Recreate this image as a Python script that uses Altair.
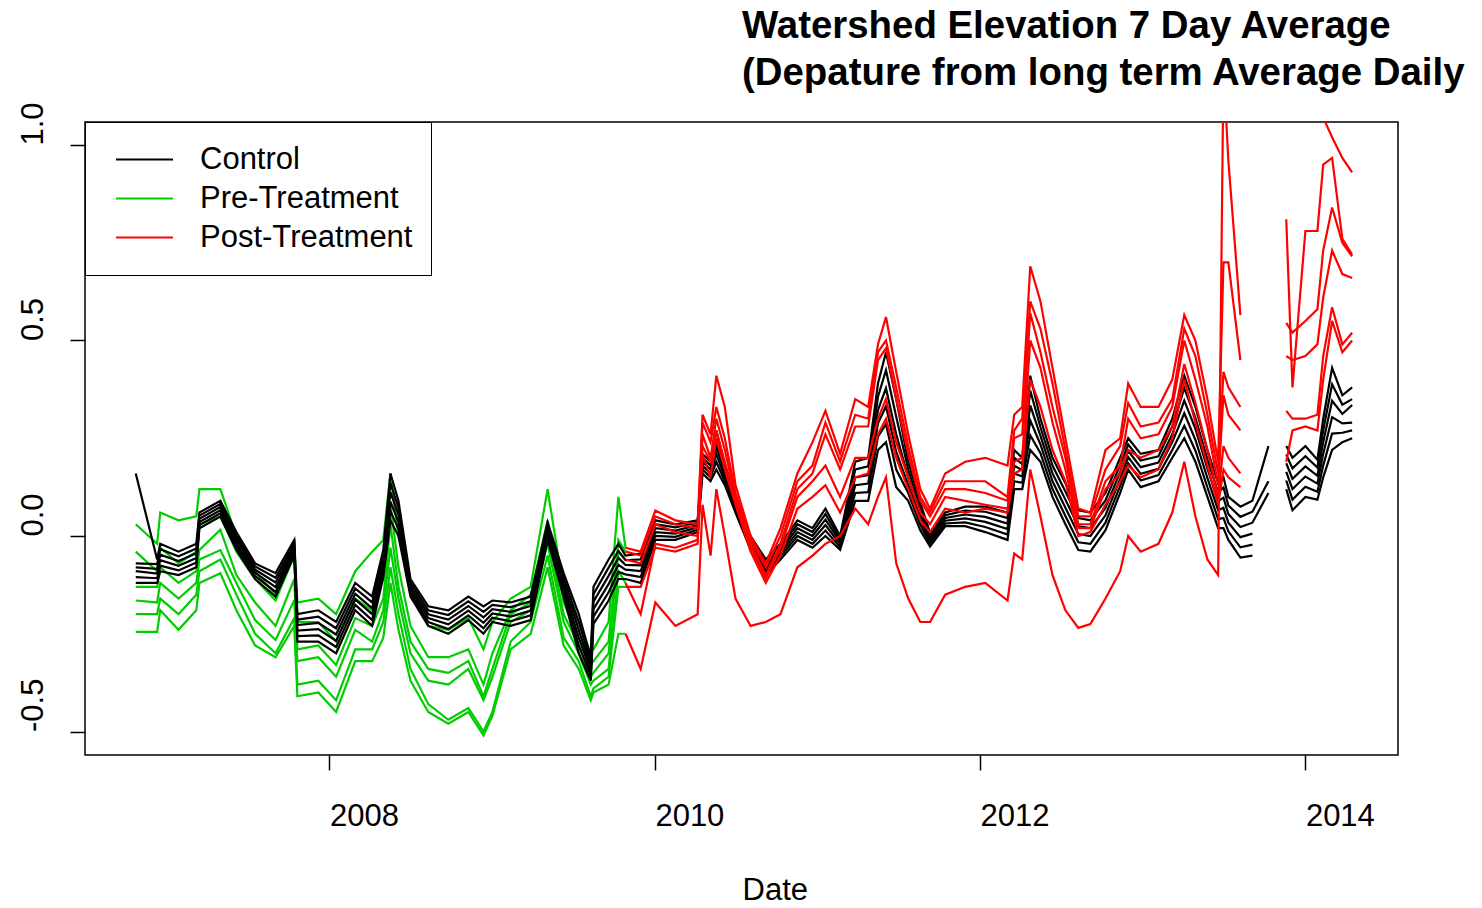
import altair as alt
import pandas as pd

# ---------------- data ----------------
dates = [
    "2006-10-23", "2006-12-10", "2006-12-17", "2007-01-27", "2007-03-08", "2007-03-15", "2007-05-01", "2007-06-06", "2007-07-18", "2007-09-02",
    "2007-10-14", "2007-10-21", "2007-12-07", "2008-01-16", "2008-02-28", "2008-04-06", "2008-05-01", "2008-05-17", "2008-06-04", "2008-07-01",
    "2008-08-10", "2008-09-24", "2008-11-08", "2008-12-12", "2009-01-01", "2009-02-11", "2009-03-28", "2009-05-05", "2009-06-10", "2009-07-14",
    "2009-08-10", "2009-08-16", "2009-09-19", "2009-10-11", "2009-10-27", "2009-11-30", "2010-01-02", "2010-02-16", "2010-04-07", "2010-04-18",
    "2010-05-06", "2010-05-19", "2010-06-07", "2010-07-01", "2010-08-04", "2010-09-07", "2010-10-10", "2010-11-17", "2010-12-21", "2011-01-19",
    "2011-02-21", "2011-03-27", "2011-04-25", "2011-05-17", "2011-06-04", "2011-06-27", "2011-07-24", "2011-08-20", "2011-09-11", "2011-10-15",
    "2011-11-29", "2012-01-13", "2012-03-03", "2012-03-18", "2012-04-05", "2012-04-23", "2012-05-16", "2012-06-12", "2012-07-11", "2012-08-09",
    "2012-09-05", "2012-10-09", "2012-11-11", "2012-11-29", "2012-12-27", "2013-02-05", "2013-03-08", "2013-04-04", "2013-04-29", "2013-05-26",
    "2013-06-19", "2013-07-01", "2013-07-12", "2013-08-08", "2013-09-04", "2013-10-10",
    "2013-10-29",
    "2013-11-19", "2013-12-03", "2014-01-01", "2014-01-28", "2014-02-10", "2014-03-02", "2014-03-25", "2014-04-16",
]

# control watersheds (black)
C1 = [0.16, -0.06, -0.02, -0.04, -0.02, 0.06, 0.09, 0.01, -0.07, -0.095,
      -0.01, -0.2, -0.19, -0.22, -0.12, -0.155, -0.036, 0.16, 0.09, -0.11,
      -0.18, -0.19, -0.155, -0.18, -0.165, -0.17, -0.155, 0.035, -0.095, -0.2,
      -0.31, -0.13, -0.06, -0.02, -0.05, -0.045, 0.04, 0.03, 0.04, 0.21,
      0.19, 0.27, 0.18, 0.1, 0.0, -0.06, -0.02, 0.04, 0.02, 0.07,
      0.0, 0.19, 0.2, 0.39, 0.47, 0.35, 0.19, 0.085, 0.008, 0.06,
      0.075, 0.075, 0.06, 0.22, 0.2, 0.41, 0.3, 0.2, 0.135, 0.066,
      0.06, 0.11, 0.2, 0.25, 0.21, 0.22, 0.3, 0.41, 0.33, 0.22,
      0.135, 0.15, 0.1, 0.075, 0.09, 0.23,
      None,
      0.23, 0.2, 0.23, 0.195, 0.3, 0.43, 0.36, 0.38]
C2 = [-0.07, -0.072, -0.034, -0.052, -0.032, 0.052, 0.082, 0.001, -0.078, -0.107,
      -0.018, -0.214, -0.206, -0.236, -0.134, -0.17, -0.05, 0.136, 0.072, -0.119,
      -0.19, -0.202, -0.167, -0.194, -0.176, -0.182, -0.167, 0.026, -0.107, -0.22,
      -0.322, -0.149, -0.081, -0.038, -0.062, -0.06, 0.03, 0.022, 0.034, 0.2,
      0.18, 0.25, 0.17, 0.092, -0.007, -0.068, -0.028, 0.03, 0.01, 0.056,
      -0.007, 0.17, 0.178, 0.356, 0.424, 0.305, 0.17, 0.071, 0.001, 0.053,
      0.065, 0.062, 0.046, 0.2, 0.184, 0.372, 0.278, 0.18, 0.114, 0.046,
      0.04, 0.091, 0.182, 0.234, 0.193, 0.204, 0.28, 0.378, 0.302, 0.196,
      0.112, 0.124, 0.078, 0.049, 0.062, 0.14,
      None,
      0.208, 0.173, 0.204, 0.175, 0.27, 0.388, 0.336, 0.35]
C3 = [-0.08, -0.084, -0.048, -0.064, -0.044, 0.044, 0.074, -0.008, -0.086, -0.119,
      -0.026, -0.228, -0.222, -0.252, -0.148, -0.185, -0.064, 0.112, 0.054, -0.128,
      -0.2, -0.214, -0.179, -0.208, -0.187, -0.194, -0.179, 0.017, -0.119, -0.24,
      -0.334, -0.168, -0.102, -0.056, -0.074, -0.075, 0.02, 0.014, 0.028, 0.19,
      0.17, 0.23, 0.16, 0.084, -0.014, -0.076, -0.036, 0.02, 0.0, 0.042,
      -0.014, 0.15, 0.156, 0.322, 0.378, 0.26, 0.15, 0.057, -0.006, 0.046,
      0.055, 0.049, 0.032, 0.18, 0.168, 0.334, 0.256, 0.16, 0.093, 0.025,
      0.02, 0.072, 0.164, 0.218, 0.176, 0.188, 0.26, 0.346, 0.274, 0.172,
      0.089, 0.098, 0.056, 0.023, 0.034, 0.11,
      None,
      0.186, 0.146, 0.178, 0.154, 0.24, 0.346, 0.312, 0.335]
C4 = [-0.09, -0.096, -0.062, -0.076, -0.056, 0.036, 0.066, -0.017, -0.094, -0.131,
      -0.034, -0.242, -0.238, -0.268, -0.162, -0.2, -0.077, 0.088, 0.036, -0.137,
      -0.21, -0.226, -0.191, -0.222, -0.198, -0.206, -0.191, 0.008, -0.131, -0.26,
      -0.346, -0.187, -0.123, -0.074, -0.086, -0.09, 0.01, 0.006, 0.022, 0.18,
      0.16, 0.21, 0.15, 0.076, -0.021, -0.084, -0.044, 0.01, -0.01, 0.028,
      -0.021, 0.13, 0.134, 0.288, 0.332, 0.215, 0.13, 0.043, -0.013, 0.039,
      0.045, 0.036, 0.018, 0.16, 0.152, 0.296, 0.234, 0.14, 0.072, 0.005,
      0.0, 0.053, 0.146, 0.202, 0.159, 0.172, 0.24, 0.314, 0.246, 0.148,
      0.066, 0.072, 0.034, -0.003, 0.006, None,
      None,
      0.164, 0.12, 0.152, 0.134, 0.21, 0.304, 0.288, 0.29]
C5 = [-0.105, -0.108, -0.076, -0.088, -0.068, 0.028, 0.058, -0.026, -0.102, -0.143,
      -0.042, -0.256, -0.254, -0.284, -0.176, -0.215, -0.091, 0.064, 0.018, -0.146,
      -0.22, -0.238, -0.203, -0.236, -0.209, -0.218, -0.203, -0.001, -0.143, -0.28,
      -0.358, -0.206, -0.144, -0.092, -0.098, -0.105, 0.0, -0.002, 0.016, 0.17,
      0.15, 0.19, 0.14, 0.068, -0.028, -0.092, -0.052, 0.0, -0.02, 0.014,
      -0.028, 0.11, 0.112, 0.254, 0.286, 0.17, 0.11, 0.029, -0.02, 0.032,
      0.035, 0.023, 0.004, 0.14, 0.136, 0.258, 0.212, 0.12, 0.051, -0.016,
      -0.02, 0.034, 0.128, 0.186, 0.142, 0.156, 0.22, 0.282, 0.218, 0.124,
      0.043, 0.046, 0.012, -0.029, -0.022, None,
      None,
      0.142, 0.093, 0.126, 0.113, 0.18, 0.262, 0.264, 0.27]
C6 = [-0.12, -0.12, -0.09, -0.10, -0.08, 0.02, 0.05, -0.035, -0.11, -0.155,
      -0.05, -0.27, -0.27, -0.3, -0.19, -0.23, -0.105, 0.04, 0.0, -0.155,
      -0.23, -0.25, -0.215, -0.25, -0.22, -0.23, -0.215, -0.01, -0.155, -0.3,
      -0.37, -0.225, -0.165, -0.11, -0.11, -0.12, -0.01, -0.01, 0.01, 0.16,
      0.14, 0.17, 0.13, 0.06, -0.035, -0.1, -0.06, -0.01, -0.03, 0.0,
      -0.035, 0.09, 0.09, 0.22, 0.24, 0.125, 0.09, 0.015, -0.027, 0.025,
      0.025, 0.01, -0.01, 0.12, 0.12, 0.22, 0.19, 0.1, 0.03, -0.036,
      -0.04, 0.015, 0.11, 0.17, 0.125, 0.14, 0.2, 0.25, 0.19, 0.1,
      0.02, 0.02, -0.01, -0.055, -0.05, None,
      None,
      0.12, 0.066, 0.1, 0.093, 0.15, 0.22, 0.24, 0.25]

# treated watersheds (green before treatment, red after)
T1 = [0.03, -0.02, 0.06, 0.04, 0.05, 0.12, 0.12, 0.0, -0.09, -0.15,
      -0.01, -0.17, -0.16, -0.2, -0.09, -0.04, -0.01, 0.16, 0.0, -0.13,
      -0.23, -0.24, -0.21, -0.29, -0.22, -0.16, -0.13, 0.12, -0.14, -0.22,
      -0.3, -0.29, -0.22, 0.1, -0.03, -0.04, 0.065, 0.04, 0.03, 0.31,
      0.26, 0.41, 0.33, 0.13, 0.0, -0.07, 0.02, 0.16, 0.24, 0.32,
      0.21, 0.35, 0.33, 0.49, 0.56, 0.42, 0.26, 0.12, 0.07, 0.16,
      0.19, 0.2, 0.18, 0.31, 0.33, 0.69, 0.6, 0.43, 0.25, 0.07,
      0.06, 0.22, 0.25, 0.39, 0.33, 0.33, 0.4, 0.565, 0.5, 0.35,
      0.19, 0.7, 0.7, 0.45, None, None,
      None,
      0.81, 0.38, 0.78, 0.78, 0.95, 0.967, 0.76, 0.72]
T2 = [-0.04, -0.09, -0.03, -0.07, -0.04, 0.03, 0.05, -0.04, -0.11, -0.165,
      -0.05, -0.22, -0.22, -0.27, -0.16, -0.19, -0.11, 0.08, -0.08, -0.23,
      -0.31, -0.31, -0.29, -0.38, -0.3, -0.19, -0.15, 0.04, -0.17, -0.26,
      -0.33, -0.32, -0.27, -0.01, -0.04, -0.05, 0.05, 0.03, 0.02, 0.29,
      0.24, 0.33, 0.25, 0.11, -0.01, -0.08, 0.0, 0.14, 0.18, 0.29,
      0.19, 0.31, 0.3, 0.47, 0.5, 0.38, 0.23, 0.1, 0.06, 0.14,
      0.14, 0.14, 0.1, 0.27, 0.3, 0.6, 0.53, 0.39, 0.22, 0.05,
      0.05, 0.17, 0.23, 0.34, 0.28, 0.29, 0.35, 0.53, 0.46, 0.31,
      0.16, 0.42, 0.38, 0.33, None, None,
      None,
      0.545, 0.52, 0.55, 0.58, 0.73, 0.84, 0.75, 0.715]
T3 = [-0.13, -0.13, -0.08, -0.12, -0.09, -0.036, 0.016, -0.1, -0.17, -0.23,
      -0.11, -0.29, -0.28, -0.33, -0.21, -0.23, -0.16, 0.03, -0.13, -0.27,
      -0.34, -0.35, -0.32, -0.41, -0.34, -0.2, -0.17, 0.01, -0.2, -0.28,
      -0.36, -0.35, -0.3, -0.04, -0.06, -0.07, 0.03, 0.01, 0.0, 0.26,
      0.2, 0.3, 0.22, 0.1, -0.02, -0.1, -0.02, 0.12, 0.16, 0.26,
      0.17, 0.28, 0.28, 0.45, 0.48, 0.35, 0.21, 0.09, 0.05, 0.12,
      0.12, 0.11, 0.09, 0.25, 0.26, 0.57, 0.47, 0.33, 0.2, 0.03,
      0.03, 0.14, 0.18, 0.3, 0.25, 0.26, 0.33, 0.5, 0.4, 0.28,
      0.13, 0.36, 0.31, 0.27, None, None,
      None,
      0.46, 0.45, 0.46, 0.49, 0.61, 0.73, 0.67, 0.66]
T4 = [-0.165, -0.17, -0.12, -0.16, -0.12, -0.06, -0.036, -0.12, -0.215, -0.266,
      -0.164, -0.32, -0.31, -0.36, -0.24, -0.27, -0.19, -0.03, -0.16, -0.3,
      -0.37, -0.38, -0.34, -0.42, -0.36, -0.22, -0.19, -0.02, -0.22, -0.3,
      -0.38, -0.37, -0.34, -0.09, -0.12, -0.2, -0.02, -0.03, -0.01, 0.23,
      0.19, 0.27, 0.19, 0.09, -0.03, -0.11, -0.03, 0.1, 0.14, 0.18,
      0.1, 0.2, 0.2, 0.3, 0.35, 0.24, 0.15, 0.06, 0.03, 0.1,
      0.09, 0.08, 0.07, 0.19, 0.2, 0.5, 0.43, 0.29, 0.17, 0.02,
      0.02, 0.12, 0.16, 0.22, 0.2, 0.22, 0.28, 0.44, 0.34, 0.22,
      0.1, 0.23, 0.2, 0.16, None, None,
      None,
      0.32, 0.3, 0.3, 0.31, 0.46, 0.585, 0.49, 0.52]
T5 = [-0.2, -0.2, -0.16, -0.2, -0.15, -0.09, -0.06, -0.15, -0.25, -0.3,
      -0.21, -0.38, -0.37, -0.42, -0.29, -0.29, -0.22, -0.08, -0.2, -0.34,
      -0.43, -0.47, -0.44, -0.5, -0.45, -0.27, -0.22, -0.05, -0.26, -0.32,
      -0.41, -0.39, -0.36, -0.13, -0.13, -0.13, -0.03, -0.04, -0.02, 0.21,
      0.15, 0.25, 0.17, 0.08, -0.04, -0.12, -0.05, 0.07, 0.1, 0.13,
      0.06, 0.15, 0.16, 0.26, 0.3, 0.2, 0.12, 0.04, 0.01, 0.07,
      0.06, 0.07, 0.06, 0.16, 0.17, 0.4, 0.33, 0.22, 0.14, 0.0,
      0.01, 0.08, 0.14, 0.18, 0.15, 0.17, 0.25, 0.4, 0.29, 0.18,
      0.08, 0.17, 0.15, 0.125, None, None,
      None,
      0.19, 0.27, 0.28, 0.27, 0.4, 0.55, 0.47, 0.5]
T6 = [-0.245, -0.245, -0.19, -0.24, -0.19, -0.12, -0.095, -0.19, -0.28, -0.31,
      -0.23, -0.41, -0.4, -0.45, -0.32, -0.32, -0.26, -0.12, -0.24, -0.37,
      -0.45, -0.48, -0.45, -0.51, -0.46, -0.29, -0.25, -0.08, -0.28, -0.34,
      -0.42, -0.4, -0.38, -0.25, -0.25, -0.34, -0.17, -0.23, -0.2, 0.08,
      -0.05, 0.12, 0.0, -0.16, -0.23, -0.22, -0.2, -0.08, -0.05, -0.02,
      0.0, 0.07, 0.03, 0.1, 0.15, -0.07, -0.16, -0.22, -0.22, -0.15,
      -0.13, -0.12, -0.165, -0.045, -0.06, 0.17, 0.05, -0.1, -0.19, -0.235,
      -0.225, -0.16, -0.09, 0.0, -0.04, -0.02, 0.06, 0.19, 0.05, -0.06,
      -0.1, 1.2, 0.96, 0.565, None, None,
      None,
      1.12, 1.2, 1.15, 1.1, 1.07, 1.02, 0.967, 0.93]

SWITCH = 34  # index of the first post-treatment point (shared with pre)

GROUPS = ["Control", "Pre-Treatment", "Post-Treatment"]
COLORS = ["#000000", "#00CD00", "#FF0000"]
YEAR_TICKS = [2008, 2010, 2012, 2014]
Y_TICKS = [-0.5, 0.0, 0.5, 1.0]
TITLE_LINES = ["Watershed Elevation 7 Day Average",
               "(Depature from long term Average Daily"]

# ---------------- long table ----------------
rows = []
for name, vals in [("C1", C1), ("C2", C2), ("C3", C3), ("C4", C4), ("C5", C5), ("C6", C6)]:
    seg = 0
    for d, v in zip(dates, vals):
        if v is None:
            seg += 1
            continue
        rows.append({"date": d, "value": v, "group": "Control", "key": f"{name}-{seg}"})

for name, vals in [("T1", T1), ("T2", T2), ("T3", T3), ("T4", T4), ("T5", T5), ("T6", T6)]:
    seg = 0
    for i, (d, v) in enumerate(zip(dates, vals)):
        if v is None:
            seg += 1
            continue
        if i <= SWITCH:
            rows.append({"date": d, "value": v, "group": "Pre-Treatment", "key": f"{name}-pre-{seg}"})
        if i >= SWITCH:
            rows.append({"date": d, "value": v, "group": "Post-Treatment", "key": f"{name}-post-{seg}"})

df = pd.DataFrame(rows)

FONT = "Liberation Sans"

x_enc = alt.X(
    "date:T",
    scale=alt.Scale(domain=[alt.DateTime(year=2006, month=7, date=1),
                            alt.DateTime(year=2014, month=7, date=28)], nice=False),
    axis=alt.Axis(values=[alt.DateTime(year=y, month=1, date=1) for y in YEAR_TICKS],
                  format="%Y", labelAlign="left", labelBaseline="top", labelPadding=31,
                  tickSize=15, tickWidth=1.5, tickColor="black", domain=False, grid=False,
                  labelFont=FONT, labelFontSize=31, labelColor="black",
                  labelFlush=False, labelOverlap=False,
                  title="Date", titleFont=FONT, titleFontSize=31, titleFontWeight="normal",
                  titleColor="black", titleAlign="left", titleBaseline="alphabetic",
                  titleX=657, titleY=144),
)

y_enc = alt.Y(
    "value:Q",
    scale=alt.Scale(domain=[-0.5601, 1.0588], nice=False, zero=False),
    axis=alt.Axis(values=Y_TICKS,
                  labelExpr="datum.value < 0 ? '-' + format(-datum.value, '.1f') : format(datum.value, '.1f')",
                  labelAngle=270, labelAlign="left", labelBaseline="alphabetic", labelPadding=28,
                  tickSize=15, tickWidth=1.5, tickColor="black", domain=False, grid=False,
                  labelFont=FONT, labelFontSize=31, labelColor="black",
                  labelFlush=False, labelOverlap=False, title=None),
)

color_enc = alt.Color(
    "group:N",
    scale=alt.Scale(domain=GROUPS, range=COLORS),
    legend=alt.Legend(title=None, orient="none", legendX=0, legendY=0, direction="vertical",
                      symbolType="stroke", symbolSize=3249, symbolStrokeWidth=2,
                      clipHeight=39, rowPadding=0, padding=18,
                      labelFont=FONT, labelFontSize=31, labelColor="black",
                      labelOffset=26, symbolOffset=12, labelLimit=400,
                      strokeColor="black", fillColor="white"),
)

base = alt.Chart(df).mark_line(strokeWidth=2.2, clip=True).encode(
    x=x_enc, y=y_enc, color=color_enc, detail="key:N"
)

layers = [base.transform_filter(alt.datum.group == g) for g in ["Pre-Treatment", "Control", "Post-Treatment"]]

chart = alt.layer(*layers).properties(
    width=1313,
    height=633,
    background="white",
    autosize=alt.AutoSizeParams(type="none"),
    padding={"left": 77, "top": 114, "right": 76, "bottom": 151},
    title=alt.TitleParams(text=TITLE_LINES, anchor="start", frame="group", dx=657, dy=58,
                          fontSize=38.4, font=FONT, fontWeight="bold", color="black",
                          lineHeight=47, baseline="bottom", offset=28),
).configure_view(stroke="black", strokeWidth=1.5)

chart.save("out.html", embed_options={"renderer": "svg", "actions": False})
